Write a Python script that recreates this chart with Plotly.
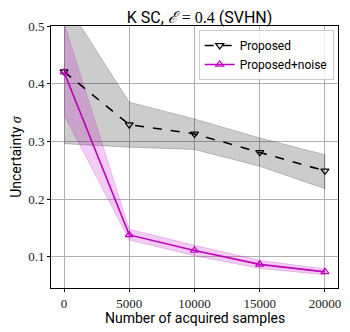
import plotly.graph_objects as go

samples = [0, 5000, 10000, 15000, 20000]
tick_labels = ["0", "5000", "10000", "15000", "20000"]
y_ticks = [0.1, 0.2, 0.3, 0.4, 0.5]

prop_mean = [0.421, 0.329, 0.313, 0.281, 0.249]
prop_upper = [0.545, 0.368, 0.339, 0.306, 0.277]
prop_lower = [0.296, 0.290, 0.286, 0.257, 0.218]

noise_mean = [0.420, 0.138, 0.111, 0.087, 0.074]
noise_upper = [0.505, 0.148, 0.120, 0.094, 0.079]
noise_lower = [0.346, 0.129, 0.102, 0.080, 0.069]

BLACK = "#000000"
MAG = "#bf00bf"
SANS = "Roboto"
SERIF = "Liberation Serif"

fig = go.Figure()

def band(x, up, lo, fill, edge):
    fig.add_trace(go.Scatter(
        x=list(x) + list(x)[::-1], y=list(up) + list(lo)[::-1],
        fill="toself", fillcolor=fill, mode="lines",
        line=dict(color=edge, width=0.8), hoverinfo="skip", showlegend=False))

band(samples, prop_upper, prop_lower, "rgba(0,0,0,0.2)", "rgba(0,0,0,0.25)")
band(samples, noise_upper, noise_lower, "rgba(191,0,191,0.2)", "rgba(191,0,191,0.25)")

fig.add_trace(go.Scatter(
    x=samples, y=prop_mean, mode="lines+markers", name="Proposed",
    line=dict(color=BLACK, width=1.6, dash="dash"),
    marker=dict(symbol="triangle-down-open", size=7, color=BLACK, line=dict(width=1.2))))
fig.add_trace(go.Scatter(
    x=samples, y=noise_mean, mode="lines+markers", name="Proposed+noise",
    line=dict(color=MAG, width=1.6),
    marker=dict(symbol="triangle-up-open", size=7, color=MAG, line=dict(width=1.2))))

# page body has an 8px margin, so the figure is drawn 8px right/down
fig.update_layout(
    width=342, height=324,
    margin=dict(l=43, r=12, t=18, b=44, autoexpand=False),
    plot_bgcolor="white", paper_bgcolor="white",
    title=dict(
        text=f'K SC, <span style="font-family:{SERIF}"><i>ℰ</i> = 0.4</span> (SVHN)',
        x=0.56, xanchor="center", y=0.988, yanchor="top",
        font=dict(family=SANS, size=16, color="black")),
    legend=dict(x=0.985, y=0.985, xanchor="right", yanchor="top",
                bgcolor="rgba(255,255,255,0.8)", bordercolor="#cccccc", borderwidth=1,
                font=dict(family=SANS, size=12, color="black"),
                itemwidth=30, tracegroupgap=0),
    showlegend=True,
    annotations=[dict(text="Number of acquired samples", xref="paper", yref="paper",
                      x=0.5, y=-0.115, xanchor="center", yanchor="middle", showarrow=False,
                      font=dict(family=SANS, size=14, color="black"))],
)
fig.update_xaxes(
    range=[-1000, 21000], tickvals=samples, ticktext=tick_labels,
    showgrid=True, gridcolor="#b0b0b0", gridwidth=1,
    showline=True, linecolor="black", linewidth=1, mirror=True,
    ticks="outside", ticklen=3, tickcolor="black", zeroline=False,
    automargin=False, ticklabeloverflow="allow",
    tickfont=dict(family=SERIF, size=13, color="#222222"))
fig.update_yaxes(
    range=[0.046, 0.5], tickvals=y_ticks, ticktext=[f"{v:.1f}" for v in y_ticks],
    showgrid=True, gridcolor="#b0b0b0", gridwidth=1,
    showline=True, linecolor="black", linewidth=1, mirror=True,
    ticks="outside", ticklen=3, tickcolor="black", zeroline=False,
    automargin=False, ticklabeloverflow="allow",
    tickfont=dict(family=SERIF, size=13, color="#222222"),
    title=dict(text=f'Uncertainty <span style="font-family:{SERIF}"><i>σ</i></span>',
               font=dict(family=SANS, size=14, color="black")))

fig.write_html("out.html")
